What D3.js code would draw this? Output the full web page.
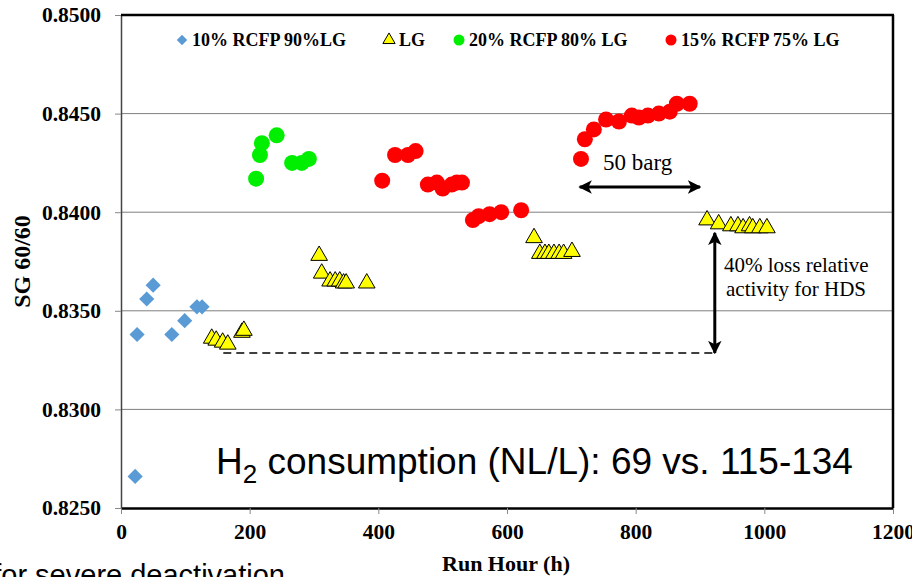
<!DOCTYPE html>
<html>
<head>
<meta charset="utf-8">
<script src="https://cdnjs.cloudflare.com/ajax/libs/d3/7.8.5/d3.min.js"></script>
<style>
  body { margin: 0; background: #fff; }
  svg { display: block; }
  .tick text { font-family: "Liberation Serif", "Times New Roman", serif; font-weight: bold; }
</style>
</head>
<body>
<svg id="chart" width="912" height="577"></svg>
<script>
// values
var xTicks = [0, 200, 400, 600, 800, 1000, 1200];
var yTicks = [0.825, 0.830, 0.835, 0.840, 0.845, 0.850];

var seriesNames = ["10% RCFP 90%LG", "LG", "20% RCFP 80% LG", "15% RCFP 75% LG"];

var blueX = [22, 25, 40, 50, 79, 99, 118, 126];
var blueY = [0.8266, 0.8338, 0.8356, 0.8363, 0.8338, 0.8345, 0.8352, 0.8352];

var yellowX = [141, 148, 158, 166, 188, 191,
               308, 312, 325, 333, 340, 346, 350, 382,
               642, 651, 659, 665, 673, 681, 688, 701,
               911, 929, 948, 959, 967, 977, 982, 993, 1004];
var yellowY = [0.8336, 0.8335, 0.8334, 0.8333, 0.8339, 0.8340,
               0.8378, 0.8369, 0.8365, 0.8365, 0.8365, 0.8364, 0.8364, 0.8364,
               0.8387, 0.8379, 0.8379, 0.8379, 0.8379, 0.8379, 0.8379, 0.8380,
               0.8396, 0.8394, 0.8393, 0.8393, 0.8392, 0.8393, 0.8392, 0.8392, 0.8392];

var greenX = [210, 216, 219, 242, 266, 281, 292];
var greenY = [0.8417, 0.8429, 0.8435, 0.8439, 0.8425, 0.8425, 0.8427];

var redX = [406, 426, 446, 458,
            477, 491, 500, 514, 522, 530,
            547, 556, 573, 591, 622,
            715, 721, 735, 754, 774, 794, 805, 819, 836, 853, 864, 884];
var redY = [0.8416, 0.8429, 0.8429, 0.8431,
            0.8414, 0.8415, 0.8412, 0.8414, 0.8415, 0.8415,
            0.8396, 0.8398, 0.8399, 0.8400, 0.8401,
            0.8427, 0.8437, 0.8442, 0.8447, 0.8446, 0.8449, 0.8448, 0.8449, 0.8450, 0.8451, 0.8455, 0.8455];

// annotation anchors (hours / SG)
var pressureArrow = {x0: 713, x1: 900, y: 0.84128};
var lossArrow = {x: 923, y0: 0.83895, y1: 0.83286};
var baseLine = {x0: 159, x1: 923, y: 0.83286};

var svg = d3.select("#chart");
var pLeft = 121, pRight = 893, pTop = 15, pBottom = 508;

var x = d3.scaleLinear().domain([0, 1200]).range([pLeft, pRight]);
var y = d3.scaleLinear().domain([0.825, 0.850]).range([pBottom, pTop]);

var serif = "'Liberation Serif', 'Times New Roman', serif";
var sans = "'Liberation Sans', Arial, sans-serif";

// grid
svg.append("g")
    .selectAll("line")
    .data(yTicks.slice(1, -1))
    .enter().append("line")
    .attr("x1", pLeft).attr("x2", pRight)
    .attr("y1", function (d) { return y(d); })
    .attr("y2", function (d) { return y(d); })
    .attr("stroke", "#7f7f7f")
    .attr("stroke-width", 1);

// axes
var xAxis = svg.append("g")
    .attr("transform", "translate(0," + pBottom + ")")
    .call(d3.axisBottom(x).tickValues(xTicks).tickSize(6).tickSizeOuter(0).tickPadding(10).tickFormat(d3.format("d")));
xAxis.selectAll("text").attr("font-size", 21.5).attr("fill", "#000");
xAxis.selectAll("line").attr("stroke", "#888");
xAxis.select(".domain").attr("stroke", "#000").attr("stroke-width", 2.5);

var yAxis = svg.append("g")
    .attr("transform", "translate(" + pLeft + ",0)")
    .call(d3.axisLeft(y).tickValues(yTicks).tickSize(6).tickSizeOuter(0).tickPadding(14).tickFormat(d3.format(".4f")));
yAxis.selectAll("text").attr("font-size", 21.5).attr("fill", "#000");
yAxis.selectAll("line").attr("stroke", "#888");
yAxis.select(".domain").attr("stroke", "#444").attr("stroke-width", 1.5);

// top and right border
svg.append("line").attr("x1", pLeft).attr("x2", pRight + 1).attr("y1", pTop).attr("y2", pTop)
    .attr("stroke", "#000").attr("stroke-width", 2.5);
svg.append("line").attr("x1", pRight).attr("x2", pRight).attr("y1", pTop).attr("y2", pBottom)
    .attr("stroke", "#000").attr("stroke-width", 2.5);

// axis titles
svg.append("text")
    .attr("transform", "translate(30," + ((pTop + pBottom) / 2) + ") rotate(-90)")
    .attr("text-anchor", "middle")
    .attr("font-family", serif).attr("font-weight", "bold").attr("font-size", 24)
    .text("SG 60/60");

svg.append("text")
    .attr("x", (pLeft + pRight) / 2 - 1).attr("y", 571)
    .attr("text-anchor", "middle")
    .attr("font-family", serif).attr("font-weight", "bold").attr("font-size", 22)
    .text("Run Hour (h)");

// markers
var diamond = d3.symbol().type(d3.symbolSquare).size(115);
var triangle = d3.symbol().type(d3.symbolTriangle).size(120);

function pts(xs, ys) {
    return xs.map(function (d, i) { return {x: d, y: ys[i]}; });
}

svg.append("g").selectAll("path")
    .data(pts(blueX, blueY))
    .enter().append("path")
    .attr("d", diamond)
    .attr("transform", function (d) { return "translate(" + x(d.x) + "," + y(d.y) + ") rotate(45)"; })
    .attr("fill", "#5b9bd5");

svg.append("g").selectAll("path")
    .data(pts(yellowX, yellowY))
    .enter().append("path")
    .attr("d", triangle)
    .attr("transform", function (d) { return "translate(" + x(d.x) + "," + y(d.y) + ")"; })
    .attr("fill", "#ffff00").attr("stroke", "#000").attr("stroke-width", 1);

svg.append("g").selectAll("circle")
    .data(pts(greenX, greenY))
    .enter().append("circle")
    .attr("cx", function (d) { return x(d.x); })
    .attr("cy", function (d) { return y(d.y); })
    .attr("r", 8)
    .attr("fill", "#00ee00");

svg.append("g").selectAll("circle")
    .data(pts(redX, redY))
    .enter().append("circle")
    .attr("cx", function (d) { return x(d.x); })
    .attr("cy", function (d) { return y(d.y); })
    .attr("r", 8)
    .attr("fill", "#ff0000");

// legend
var legendPos = [182, 389, 459, 671];
var legend = svg.append("g");
legend.selectAll("text")
    .data(seriesNames)
    .enter().append("text")
    .attr("x", function (d, i) { return legendPos[i] + 10; })
    .attr("y", 46)
    .attr("font-family", serif).attr("font-weight", "bold").attr("font-size", 18)
    .text(function (d) { return d; });
legend.append("path").attr("d", d3.symbol().type(d3.symbolSquare).size(55))
    .attr("transform", "translate(" + legendPos[0] + ",40) rotate(45)").attr("fill", "#5b9bd5");
legend.append("path").attr("d", d3.symbol().type(d3.symbolTriangle).size(65))
    .attr("transform", "translate(" + legendPos[1] + ",40)")
    .attr("fill", "#ffff00").attr("stroke", "#000").attr("stroke-width", 1);
legend.append("circle").attr("cx", legendPos[2]).attr("cy", 40).attr("r", 5.5).attr("fill", "#00ee00");
legend.append("circle").attr("cx", legendPos[3]).attr("cy", 40).attr("r", 5.5).attr("fill", "#ff0000");

// arrows
var defs = svg.append("defs");
defs.append("marker")
    .attr("id", "head")
    .attr("viewBox", "0 0 10 10")
    .attr("refX", 9).attr("refY", 5)
    .attr("markerWidth", 4.5).attr("markerHeight", 4.5)
    .attr("orient", "auto-start-reverse")
    .append("path").attr("d", "M0,0 L10,5 L0,10 L2.5,5 Z").attr("fill", "#000");

svg.append("line")
    .attr("x1", x(pressureArrow.x0)).attr("x2", x(pressureArrow.x1))
    .attr("y1", y(pressureArrow.y)).attr("y2", y(pressureArrow.y))
    .attr("stroke", "#000").attr("stroke-width", 3)
    .attr("marker-start", "url(#head)").attr("marker-end", "url(#head)");

svg.append("line")
    .attr("x1", x(lossArrow.x)).attr("x2", x(lossArrow.x))
    .attr("y1", y(lossArrow.y0)).attr("y2", y(lossArrow.y1))
    .attr("stroke", "#000").attr("stroke-width", 3)
    .attr("marker-start", "url(#head)").attr("marker-end", "url(#head)");

svg.append("line")
    .attr("x1", x(baseLine.x0)).attr("x2", x(baseLine.x1))
    .attr("y1", y(baseLine.y)).attr("y2", y(baseLine.y))
    .attr("stroke", "#000").attr("stroke-width", 1.6)
    .attr("stroke-dasharray", "8,5");

// annotation texts
svg.append("text")
    .attr("x", 603).attr("y", 170)
    .attr("font-family", serif).attr("font-size", 23)
    .text("50 barg");

svg.append("text")
    .attr("x", 724).attr("y", 272)
    .attr("font-family", serif).attr("font-size", 21)
    .text("40% loss relative");
svg.append("text")
    .attr("x", 726).attr("y", 296)
    .attr("font-family", serif).attr("font-size", 21)
    .text("activity for HDS");

var h2 = svg.append("text")
    .attr("x", 216).attr("y", 474)
    .attr("font-family", sans).attr("font-size", 37);
h2.append("tspan").text("H");
h2.append("tspan").attr("font-size", 26).attr("dy", 9).text("2");
h2.append("tspan").attr("dy", -9).text(" consumption (NL/L): 69 vs. 115-134");

svg.append("text")
    .attr("x", 285).attr("y", 585)
    .attr("text-anchor", "end")
    .attr("font-family", sans).attr("font-size", 29)
    .text("for severe deactivation");
</script>
</body>
</html>
